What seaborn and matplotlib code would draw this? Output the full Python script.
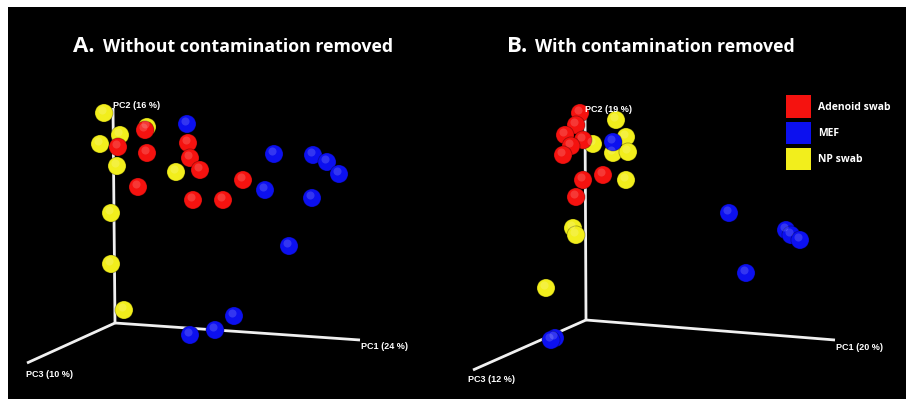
import pandas as pd
import matplotlib.pyplot as plt
import seaborn as sns
from matplotlib.patches import Patch

# projected sample positions (pixels in the figure)
groups = ['Adenoid swab', 'MEF', 'NP swab']
colors = {'Adenoid swab': '#f5120f', 'MEF': '#0c10ef', 'NP swab': '#f2ee1c'}

a_yellow_x = [147, 104, 120, 100, 117, 176, 111, 111, 124]
a_yellow_y = [127, 113, 135, 144, 166, 172, 213, 264, 310]
a_red_x = [145, 118, 147, 188, 190, 200, 138, 193, 223, 243]
a_red_y = [130, 147, 153, 143, 158, 170, 187, 200, 200, 180]
a_blue_x = [187, 274, 313, 327, 339, 265, 312, 289, 234, 215, 190]
a_blue_y = [124, 154, 155, 162, 174, 190, 198, 246, 316, 330, 335]

b_yellow_x = [616, 593, 626, 613, 628, 626, 573, 576, 546]
b_yellow_y = [120, 144, 137, 153, 152, 180, 228, 235, 288]
b_red_x = [580, 576, 565, 583, 571, 563, 583, 603, 576]
b_red_y = [113, 125, 135, 140, 146, 155, 180, 175, 197]
b_blue_x = [613, 729, 786, 791, 800, 746, 555, 551]
b_blue_y = [142, 213, 230, 235, 240, 273, 338, 340]

# axis lines: origin, PC1 end, PC2 end, PC3 end
a_axis_x = [115, 360, 113, 27]
a_axis_y = [323, 340, 108, 363]
b_axis_x = [586, 835, 585, 473]
b_axis_y = [320, 340, 112, 370]
a_axis_labels = ['PC1 (24 %)', 'PC2 (16 %)', 'PC3 (10 %)']
b_axis_labels = ['PC1 (20 %)', 'PC2 (19 %)', 'PC3 (12 %)']


def make_df(yx, yy, rx, ry, bx, by):
    rows = []
    for g, xs, ys in [('NP swab', yx, yy), ('Adenoid swab', rx, ry), ('MEF', bx, by)]:
        for x, y in zip(xs, ys):
            rows.append({'x': x, 'y': y, 'group': g})
    return pd.DataFrame(rows)


df_a = make_df(a_yellow_x, a_yellow_y, a_red_x, a_red_y, a_blue_x, a_blue_y)
df_b = make_df(b_yellow_x, b_yellow_y, b_red_x, b_red_y, b_blue_x, b_blue_y)

sns.set_style('dark')
plt.rcParams['font.family'] = ['Open Sans', 'DejaVu Sans']

fig = plt.figure(figsize=(9.06, 3.99), dpi=100, facecolor='white')
ax = fig.add_axes([8 / 906, 0, 898 / 906, 392 / 399])
ax.set_facecolor('black')
ax.set_xlim(8, 906)
ax.set_ylim(399, 7)
ax.set_xticks([])
ax.set_yticks([])
for s in ax.spines.values():
    s.set_visible(False)


def draw_axes(xs, ys, labels, offs):
    for i in range(1, 4):
        ax.plot([xs[0], xs[i]], [ys[0], ys[i]], color='#f0f0f0', lw=2, zorder=1,
                solid_capstyle='butt')
    for i, lab in enumerate(labels):
        dx, dy = offs[i]
        ax.text(xs[i + 1] + dx, ys[i + 1] + dy, lab, color='white', fontsize=6.5,
                fontweight='bold', family=['Liberation Sans', 'DejaVu Sans'],
                va='center', ha='left', zorder=5)


draw_axes(a_axis_x, a_axis_y, a_axis_labels, [(1, 7), (0, -2), (-1, 12)])
draw_axes(b_axis_x, b_axis_y, b_axis_labels, [(1, 8), (0, -2), (-5, 10)])

for df in (df_a, df_b):
    sns.scatterplot(data=df, x='x', y='y', hue='group', palette=colors, s=170,
                    edgecolor='#00000055', linewidth=0.6, legend=False, ax=ax, zorder=3)
    # small highlight to give the spheres some shading
    ax.scatter(df['x'] - 2, df['y'] - 2.5, s=34, color='white', alpha=0.16,
               linewidths=0, zorder=4)

# titles
ax.text(73, 46, 'A.', color='white', fontsize=16, fontweight='bold', va='center')
ax.text(103, 47, 'Without contamination removed', color='white', fontsize=12.8,
        fontweight='bold', va='center')
ax.text(507, 46, 'B.', color='white', fontsize=16, fontweight='bold', va='center')
ax.text(535, 47, 'With contamination removed', color='white', fontsize=12.8,
        fontweight='bold', va='center')

handles = [Patch(facecolor=colors[g], edgecolor='none', label=g) for g in groups]
leg = ax.legend(handles=handles, loc='upper left', bbox_to_anchor=(0.862, 0.785),
                frameon=False, fontsize=7.5, handlelength=2.35, handleheight=2.9,
                labelspacing=0.38, handletextpad=0.7, borderaxespad=0)
for t in leg.get_texts():
    t.set_color('white')
    t.set_fontweight('bold')

fig.savefig('out.png', dpi=100, facecolor='white')
